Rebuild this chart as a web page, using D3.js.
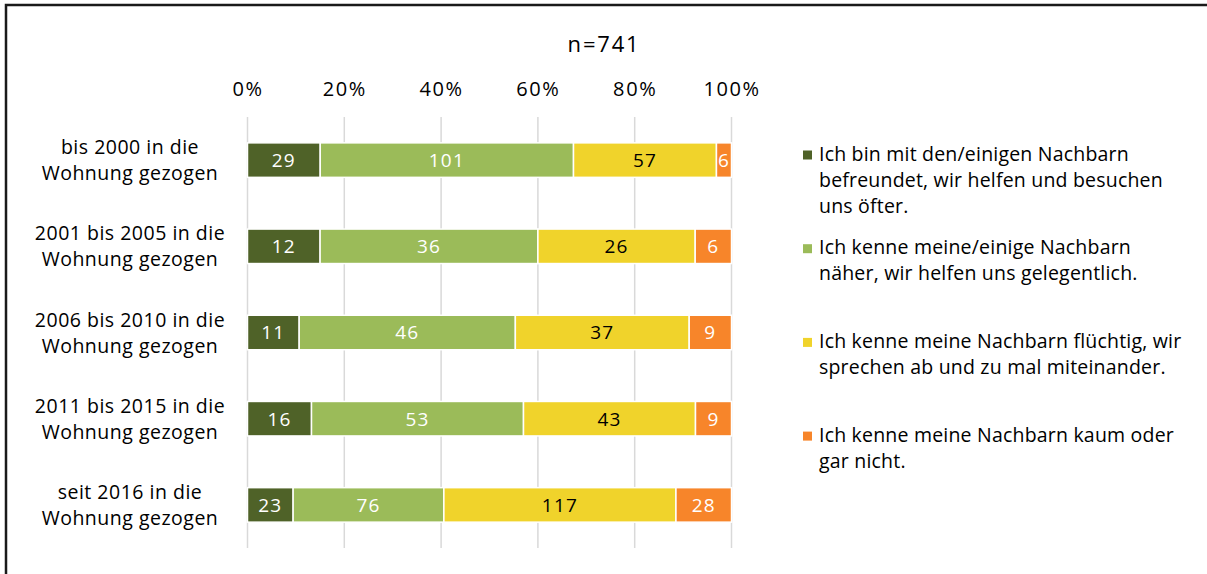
<!DOCTYPE html>
<html>
<head>
<meta charset="utf-8">
<script src="https://cdn.jsdelivr.net/npm/d3@7"></script>
<style>
  html, body { margin: 0; padding: 0; background: #fff; overflow: hidden; }
  svg { display: block; font-family: "Open Sans", "Noto Sans", sans-serif; }
</style>
</head>
<body>
<svg id="chart" width="1207" height="574"></svg>
<script>
// Wohndauer-Gruppen (two-line labels)
const categories = [
  ["bis 2000 in die", "Wohnung gezogen"],
  ["2001 bis 2005 in die", "Wohnung gezogen"],
  ["2006 bis 2010 in die", "Wohnung gezogen"],
  ["2011 bis 2015 in die", "Wohnung gezogen"],
  ["seit 2016 in die", "Wohnung gezogen"]
];

// Antwortkategorien (legend text, line by line)
const seriesNames = [
  ["Ich bin mit den/einigen Nachbarn", "befreundet, wir helfen und besuchen", "uns öfter."],
  ["Ich kenne meine/einige Nachbarn", "näher, wir helfen uns gelegentlich."],
  ["Ich kenne meine Nachbarn flüchtig, wir", "sprechen ab und zu mal miteinander."],
  ["Ich kenne meine Nachbarn kaum oder", "gar nicht."]
];

// Anzahl der Nennungen je Gruppe und Antwort
const befreundet   = [29, 12, 11, 16, 23];
const naeher       = [101, 36, 46, 53, 76];
const fluechtig    = [57, 26, 37, 43, 117];
const kaum         = [6, 6, 9, 9, 28];

const tickLabels = ["0%", "20%", "40%", "60%", "80%", "100%"];
const title = "n=741";

const colors = ["#4F6228", "#9BBB59", "#F0D32B", "#F7852A"];
const labelColors = ["#fff", "#fff", "#000", "#fff"];

const seriesValues = [befreundet, naeher, fluechtig, kaum];
const rows = categories.map((c, i) => {
  const r = { idx: i };
  seriesValues.forEach((s, k) => { r["s" + k] = s[i]; });
  return r;
});
const keys = seriesValues.map((_, k) => "s" + k);

const svg = d3.select("#chart");

// outer frame (continues past the right and bottom edges)
svg.append("rect")
  .attr("x", 6).attr("y", 5)
  .attr("width", 1400).attr("height", 800)
  .attr("fill", "none").attr("stroke", "#1a1a1a").attr("stroke-width", 2.5);

const plot = { left: 247.5, right: 731.5, top: 117, bottom: 548 };

const x = d3.scaleLinear().domain([0, 1]).range([plot.left, plot.right]);
const y = d3.scaleBand().domain(d3.range(categories.length))
  .range([plot.top, plot.bottom]).paddingInner(0.6).paddingOuter(0.3);

// title
svg.append("text")
  .attr("x", 604).attr("y", 52)
  .attr("text-anchor", "middle")
  .attr("font-size", 22).attr("letter-spacing", 1.8).attr("fill", "#000")
  .text(title);

// gridlines
const tickVals = tickLabels.map((_, i) => i / (tickLabels.length - 1));
svg.append("g").selectAll("line").data(tickVals).join("line")
  .attr("x1", d => x(d)).attr("x2", d => x(d))
  .attr("y1", plot.top).attr("y2", plot.bottom)
  .attr("stroke", "#D9D9D9").attr("stroke-width", 1.5);

// top axis labels
const axis = d3.axisTop(x).tickValues(tickVals)
  .tickFormat((d, i) => tickLabels[i]).tickSize(0).tickPadding(0);
const axisG = svg.append("g").attr("transform", "translate(0,96)").call(axis);
axisG.select(".domain").remove();
axisG.selectAll("text").attr("font-size", 20).attr("letter-spacing", 1.6)
  .attr("fill", "#000")
  .attr("font-family", "'Open Sans', sans-serif").attr("dy", 0);

// stacked (100%) bars
const stack = d3.stack().keys(keys).offset(d3.stackOffsetExpand);
const stacked = stack(rows);

const layers = svg.append("g").selectAll("g").data(stacked).join("g")
  .attr("fill", (d, k) => colors[k]);

layers.selectAll("rect").data(d => d).join("rect")
  .attr("x", d => x(d[0]))
  .attr("width", d => x(d[1]) - x(d[0]))
  .attr("y", d => y(d.data.idx))
  .attr("height", y.bandwidth())
  .attr("stroke", "#fff").attr("stroke-width", 1.5);

// value labels
stacked.forEach((layer, k) => {
  svg.append("g").selectAll("text").data(layer).join("text")
    .attr("x", d => (x(d[0]) + x(d[1])) / 2)
    .attr("y", d => y(d.data.idx) + y.bandwidth() / 2)
    .attr("dy", "0.36em")
    .attr("text-anchor", "middle")
    .attr("font-size", 19).attr("letter-spacing", 1.2)
    .attr("fill", labelColors[k])
    .text(d => d.data[layer.key]);
});

// category labels
const catG = svg.append("g");
categories.forEach((lines, i) => {
  const cy = y(i) + y.bandwidth() / 2;
  const t = catG.append("text")
    .attr("text-anchor", "middle")
    .attr("font-size", 19.5).attr("letter-spacing", 0.5).attr("fill", "#000");
  lines.forEach((ln, j) => {
    t.append("tspan").attr("x", 130)
      .attr("y", cy - 6 + j * 26)
      .text(ln);
  });
});

// legend
const legend = svg.append("g");
seriesNames.forEach((lines, k) => {
  const base = 160.5 + k * 93.7;
  legend.append("rect")
    .attr("x", 803).attr("y", base - 10)
    .attr("width", 9).attr("height", 9)
    .attr("fill", colors[k]);
  const t = legend.append("text").attr("font-size", 19.5)
    .attr("letter-spacing", 0.2).attr("fill", "#000");
  lines.forEach((ln, j) => {
    t.append("tspan").attr("x", 819).attr("y", base + j * 26.2).text(ln);
  });
});
</script>
</body>
</html>
